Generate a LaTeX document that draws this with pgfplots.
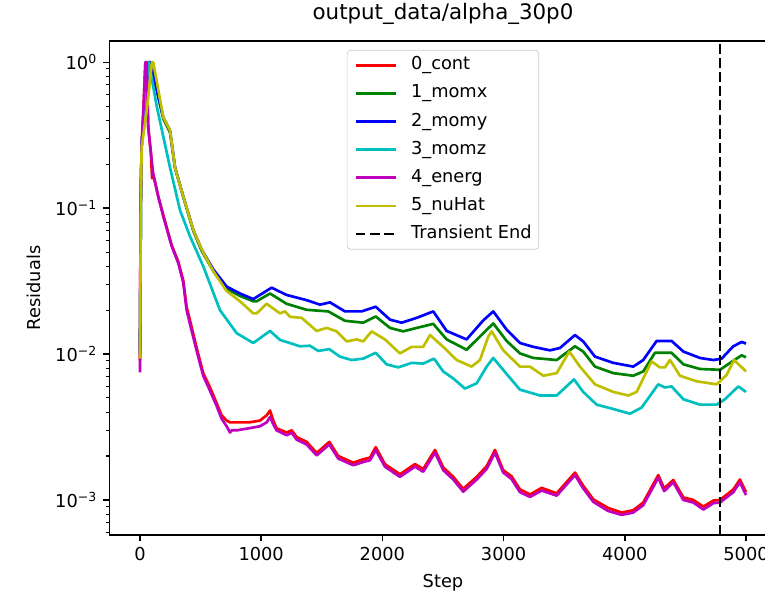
\documentclass[border=0pt]{standalone}
\usepackage{fontspec}
\setmainfont{DejaVu Sans}
\usepackage{pgfplots}
\pgfplotsset{compat=1.18}

\definecolor{mplg}{rgb}{0,0.5,0}
\definecolor{mplc}{rgb}{0,0.75,0.75}
\definecolor{mplm}{rgb}{0.75,0,0.75}
\definecolor{mply}{rgb}{0.75,0.75,0}

\begin{document}
\begin{tikzpicture}
\begin{axis}[
    scale only axis,
    width=374.5pt, height=277.5pt,
    ymode=log,
    xmin=-250, xmax=5250,
    ymin=5.758e-4, ymax=1.399,
    font=\fontsize{10}{12}\selectfont,
    /pgf/number format/assume math mode=true,
    /pgf/number format/set thousands separator={},
    xtick={0,1000,2000,3000,4000,5000},
    ytick={0.001,0.01,0.1,1},
    yticklabels={{10\textsuperscript{−3}},{10\textsuperscript{−2}},{10\textsuperscript{−1}},{10\textsuperscript{0}}},
    minor ytick={6e-4,7e-4,8e-4,9e-4,2e-3,3e-3,4e-3,5e-3,6e-3,7e-3,8e-3,9e-3,2e-2,3e-2,4e-2,5e-2,6e-2,7e-2,8e-2,9e-2,0.2,0.3,0.4,0.5,0.6,0.7,0.8,0.9},
    xtick pos=bottom, ytick pos=left,
    tick align=outside,
    major tick length=3.5pt, minor tick length=2pt,
    every major tick/.append style={line width=0.8pt, black},
    every minor tick/.append style={line width=0.6pt, black},
    axis line style={line width=0.8pt},
    title={output\_data/alpha\_30p0},
    every axis title/.style={at={(axis description cs:0.5,1.0547)}, anchor=center, font=\fontsize{12}{14}\selectfont},
    xlabel={Step},
    xlabel style={at={(axis description cs:0.5,-0.0972)}, anchor=center},
    ylabel={Residuals},
    ylabel style={at={(axis description cs:-0.1135,0.5)}, anchor=center},
    legend cell align=left,
    legend image code/.code={\draw[#1] (0pt,0pt) -- (22.5pt,0pt);},
    legend style={at={(0.5,0.982)}, anchor=north, draw=black!20, rounded corners=2pt,
        fill=white, fill opacity=0.8, text opacity=1, inner xsep=4pt, inner ysep=3.5pt,
        row sep=5.8pt, column sep=0pt,
        nodes={inner sep=0pt, text height=7.5pt, text depth=2.5pt},
        font=\fontsize{10}{12}\selectfont},
    /tikz/every odd column/.append style={column sep=7.9pt},
    every axis plot/.append style={line width=1.5pt, line join=round},
]
% 0_cont
\addplot[red] coordinates {
(0,0.0090)(5,0.10)(14,0.27)(30,0.5)(45,1.0)(55,1.0)(68,0.36)(90,0.24)(100,0.16)(110,0.17)
(151,0.12)(192,0.09)(261,0.056)(316,0.043)(357,0.032)(385,0.021)(413,0.017)(468,0.011)
(522,0.0074)(578,0.0059)(633,0.0046)(674,0.0038)(715,0.0035)(743,0.0034)(800,0.0034)
(900,0.0034)(990,0.0035)(1045,0.0038)(1073,0.0041)(1100,0.0035)(1127,0.0031)(1210,0.0029)
(1252,0.0030)(1293,0.0027)(1375,0.0025)(1458,0.0021)(1562,0.0025)(1636,0.0020)(1760,0.0018)
(1842,0.0019)(1898,0.00195)(1945,0.0023)(2021,0.00176)(2145,0.0015)(2269,0.00176)
(2337,0.00163)(2434,0.0022)(2502,0.00167)(2585,0.00144)(2667,0.00119)(2778,0.00144)
(2860,0.0017)(2929,0.0022)(2997,0.0016)(3066,0.00145)(3135,0.00118)(3218,0.00109)
(3314,0.00121)(3438,0.00111)(3589,0.00154)(3657,0.00125)(3740,0.00101)(3863,0.00088)
(3974,0.00082)(4070,0.00085)(4152,0.00096)(4276,0.00148)(4325,0.0012)(4400,0.00137)
(4483,0.00104)(4565,0.0010)(4648,0.0009)(4730,0.00099)(4785,0.0010)(4895,0.00118)
(4950,0.00138)(5000,0.00113)
};
\addlegendentry{0\_cont}
% 1_momx
\addplot[mplg] coordinates {
(0,0.011)(8,0.12)(14,0.27)(40,0.5)(70,1.0)(85,1.0)(192,0.41)(248,0.33)(289,0.19)(357,0.12)
(440,0.07)(509,0.051)(605,0.037)(715,0.028)(825,0.025)(935,0.023)(963,0.023)(1073,0.026)
(1210,0.0221)(1375,0.0201)(1554,0.0196)(1691,0.0169)(1842,0.0164)(1945,0.0181)(2063,0.0151)
(2172,0.0143)(2283,0.0151)(2420,0.0161)(2530,0.0126)(2695,0.0107)(2832,0.0139)(2915,0.0162)
(3025,0.0123)(3135,0.0101)(3245,0.0094)(3438,0.0091)(3589,0.0113)(3657,0.0104)(3754,0.0082)
(3905,0.0074)(4070,0.0071)(4152,0.0076)(4249,0.0102)(4386,0.0102)(4483,0.0085)(4620,0.0079)
(4785,0.0078)(4895,0.0090)(4964,0.0098)(5000,0.0095)
};
\addlegendentry{1\_momx}
% 2_momy
\addplot[blue] coordinates {
(0,0.010)(8,0.12)(14,0.27)(40,0.5)(70,1.0)(85,1.0)(192,0.42)(248,0.34)(289,0.19)(357,0.12)
(440,0.071)(509,0.052)(605,0.038)(715,0.029)(825,0.026)(935,0.0238)(1086,0.0285)(1210,0.0254)
(1375,0.0234)(1485,0.0218)(1568,0.0226)(1691,0.0196)(1829,0.0196)(1945,0.0211)(2063,0.0172)
(2159,0.0164)(2283,0.0177)(2420,0.0196)(2530,0.0144)(2695,0.0126)(2832,0.0170)(2915,0.0196)
(3025,0.0147)(3135,0.0119)(3245,0.0112)(3383,0.0106)(3465,0.0110)(3589,0.0135)(3657,0.0122)
(3754,0.0096)(3905,0.0087)(4070,0.0082)(4152,0.0091)(4263,0.0123)(4386,0.0123)(4483,0.0104)
(4620,0.0094)(4730,0.0091)(4799,0.0093)(4895,0.0113)(4964,0.0121)(5000,0.0118)
};
\addlegendentry{2\_momy}
% 3_momz
\addplot[mplc] coordinates {
(0,0.010)(8,0.12)(14,0.27)(40,0.55)(74,1.0)(138,0.50)(248,0.19)(330,0.097)(413,0.064)
(522,0.040)(660,0.020)(798,0.0139)(935,0.0119)(1073,0.0144)(1155,0.0125)(1320,0.0113)
(1403,0.0114)(1471,0.0105)(1562,0.0108)(1650,0.0096)(1747,0.0091)(1842,0.0093)(1945,0.0102)
(2035,0.0085)(2131,0.0081)(2241,0.0087)(2337,0.0086)(2426,0.0093)(2502,0.0076)(2585,0.0068)
(2681,0.0058)(2778,0.0063)(2860,0.0082)(2915,0.0094)(3025,0.0073)(3135,0.0057)(3300,0.0052)
(3438,0.0052)(3581,0.0067)(3657,0.0055)(3768,0.0045)(3905,0.0042)(4043,0.0039)(4139,0.0043)
(4276,0.0062)(4331,0.0059)(4386,0.0060)(4483,0.0049)(4620,0.0045)(4758,0.0045)(4826,0.0049)
(4937,0.0060)(5000,0.0055)
};
\addlegendentry{3\_momz}
% 4_energ
\addplot[mplm] coordinates {
(0,0.0075)(5,0.10)(14,0.27)(30,0.5)(45,1.0)(55,1.0)(68,0.36)(90,0.24)(110,0.17)(151,0.12)
(192,0.088)(261,0.055)(316,0.042)(357,0.031)(385,0.020)(413,0.016)(468,0.0105)(522,0.0071)
(578,0.0056)(633,0.0044)(674,0.0036)(715,0.0032)(743,0.0029)(757,0.0030)(800,0.0030)
(900,0.0031)(990,0.0032)(1045,0.0034)(1073,0.0037)(1100,0.0033)(1127,0.0030)(1210,0.00278)
(1252,0.00288)(1293,0.00259)(1375,0.0024)(1458,0.00202)(1562,0.0024)(1636,0.00192)
(1760,0.00173)(1842,0.00182)(1898,0.00187)(1945,0.0022)(2021,0.00169)(2145,0.00144)
(2269,0.00169)(2337,0.00156)(2434,0.00211)(2502,0.0016)(2585,0.00138)(2667,0.00114)
(2778,0.00138)(2860,0.00163)(2929,0.00211)(2997,0.00154)(3066,0.00139)(3135,0.00113)
(3218,0.00105)(3314,0.00116)(3438,0.00107)(3589,0.00148)(3657,0.0012)(3740,0.00097)
(3863,0.00084)(3974,0.00079)(4070,0.00082)(4152,0.00092)(4276,0.00142)(4325,0.00115)
(4400,0.00132)(4483,0.001)(4565,0.00096)(4648,0.00086)(4730,0.00095)(4785,0.00096)
(4895,0.00113)(4950,0.00132)(5000,0.00108)
};
\addlegendentry{4\_energ}
% 5_nuHat
\addplot[mply] coordinates {
(0,0.0093)(8,0.12)(14,0.26)(60,0.5)(99,1.0)(110,1.0)(192,0.42)(248,0.34)(289,0.19)(357,0.12)
(440,0.071)(509,0.052)(605,0.037)(715,0.027)(825,0.023)(935,0.019)(963,0.019)(1045,0.0221)
(1155,0.019)(1196,0.0196)(1238,0.018)(1334,0.0177)(1458,0.0144)(1540,0.0151)(1623,0.0143)
(1705,0.0122)(1788,0.0126)(1842,0.0122)(1911,0.0143)(2021,0.0126)(2145,0.0101)(2241,0.0112)
(2337,0.0112)(2393,0.0135)(2502,0.0112)(2613,0.0091)(2737,0.0082)(2805,0.0091)(2874,0.0132)
(2902,0.0143)(2997,0.0106)(3135,0.0082)(3218,0.0082)(3328,0.0071)(3438,0.0074)(3542,0.0104)
(3630,0.0082)(3754,0.0062)(3905,0.0055)(4029,0.0052)(4098,0.0055)(4221,0.0089)(4290,0.0081)
(4331,0.0081)(4373,0.0091)(4455,0.0071)(4593,0.0065)(4758,0.0062)(4840,0.0072)(4901,0.0091)
(5000,0.0076)
};
\addlegendentry{5\_nuHat}
% transient end
\addplot[black, dash pattern=on 5.55pt off 2.4pt] coordinates {(4785,5.758e-4)(4785,1.399)};
\addlegendentry{Transient End}
\coordinate (sw) at (rel axis cs:0,0);
\coordinate (ne) at (rel axis cs:1,1);
\end{axis}
\pgfresetboundingbox
\path[use as bounding box] ([xshift=-61.6pt,yshift=-33.1pt]sw) rectangle ([xshift=-6.35pt,yshift=23.0pt]ne);
\end{tikzpicture}
\end{document}
